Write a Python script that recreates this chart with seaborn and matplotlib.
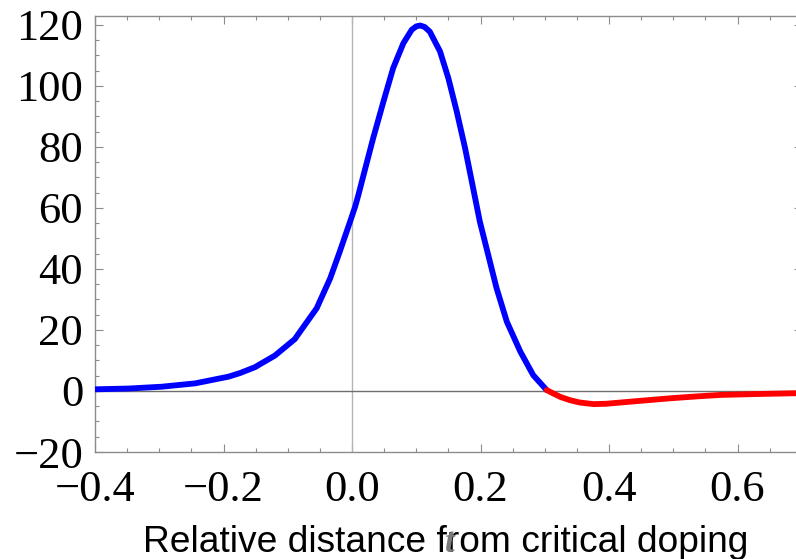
import numpy as np
import pandas as pd
import matplotlib
matplotlib.use("Agg")
import matplotlib.pyplot as plt
from matplotlib.ticker import MultipleLocator
import seaborn as sns

# ---- data ----
blue_x = [-0.400, -0.348, -0.296, -0.244, -0.192, -0.174, -0.151, -0.143, -0.120, -0.112,
          -0.089, -0.081, -0.055, -0.034, -0.019, -0.003, 0.005, 0.010, 0.018, 0.033,
          0.049, 0.064, 0.080, 0.093, 0.100, 0.106, 0.113, 0.121, 0.137, 0.150,
          0.163, 0.176, 0.189, 0.199, 0.212, 0.225, 0.241, 0.262, 0.282, 0.303]
blue_y = [0.55, 0.8, 1.4, 2.5, 4.7, 5.9, 7.8, 8.8, 11.6, 13.0,
          17.0, 19.4, 27.1, 36.9, 45.7, 55.5, 60.5, 64.3, 70.8, 82.9,
          94.9, 105.8, 114.0, 118.4, 119.5, 119.8, 119.3, 117.8, 111.3, 102.5,
          91.6, 79.6, 66.0, 55.5, 44.6, 33.7, 22.7, 12.9, 5.2, 0.3]
red_x = [0.303, 0.315, 0.325, 0.339, 0.355, 0.376, 0.395, 0.417, 0.450, 0.495,
         0.535, 0.573, 0.630, 0.700]
red_y = [0.3, -1.0, -2.0, -3.0, -3.8, -4.3, -4.2, -3.8, -3.2, -2.4,
         -1.8, -1.3, -1.0, -0.7]

x_ticks = [-0.4, -0.2, 0.0, 0.2, 0.4, 0.6]
y_ticks = [-20, 0, 20, 40, 60, 80, 100, 120]
x_label = "Relative distance from critical doping"

df = pd.DataFrame({
    "x": blue_x + red_x,
    "y": blue_y + red_y,
    "branch": ["pos"] * len(blue_x) + ["neg"] * len(red_x),
})

sns.set_style("white")
W, H = 796, 559
fig = plt.figure(figsize=(W / 100, H / 100), dpi=100)
left, right, top, bottom = 95, 801.75, 15.7, 452
ax = fig.add_axes([left / W, 1 - bottom / H, (right - left) / W, (bottom - top) / H])

ax.axvline(0, color="#b4b4b4", lw=1.0, zorder=1)
ax.axhline(0, color="#6e6e6e", lw=1.0, zorder=1)

sns.lineplot(data=df, x="x", y="y", hue="branch", palette={"pos": "#0000ff", "neg": "#ff0000"},
             estimator=None, sort=True, lw=4.2, legend=False, ax=ax, zorder=3,
             solid_joinstyle="round", solid_capstyle="round")

ax.xaxis.set_minor_locator(MultipleLocator(0.05))
ax.yaxis.set_minor_locator(MultipleLocator(5))
ax.set_xticks(x_ticks)
ax.set_yticks(y_ticks)
ax.set_xticklabels([f"{v:.1f}".replace("-", "\u2212") for v in x_ticks])
ax.set_yticklabels([f"{v:d}".replace("-", "\u2212") for v in y_ticks])
ax.set_xlim(-0.4, 0.7)
ax.set_ylim(-20, 123)

for s in ax.spines.values():
    s.set_color("#8c8c8c")
    s.set_linewidth(1.0)

ax.tick_params(which="both", direction="in", top=True, right=True, bottom=True, left=True,
               color="#8c8c8c", width=0.8)
ax.tick_params(which="major", length=6)
ax.tick_params(which="minor", length=3)
ax.tick_params(axis="y", which="major", pad=8.5)
ax.tick_params(axis="x", which="major", pad=13)

for lab in ax.get_xticklabels() + ax.get_yticklabels():
    lab.set_fontfamily("Liberation Serif")
    lab.set_fontsize(32)
    lab.set_color("black")

ax.set_xlabel(x_label, family="Liberation Sans", fontsize=26.7, color="black", va="baseline")
ax.xaxis.set_label_coords((445.5 - left) / (right - left), -(552 - bottom) / (bottom - top))
ax.set_ylabel("")

fig.text(450 / W, 1 - 544 / H, "t", family="Liberation Serif", style="italic", weight="bold",
         fontsize=25, color="#7a7a7a", ha="center", va="center")

fig.savefig("out.png", dpi=100)
